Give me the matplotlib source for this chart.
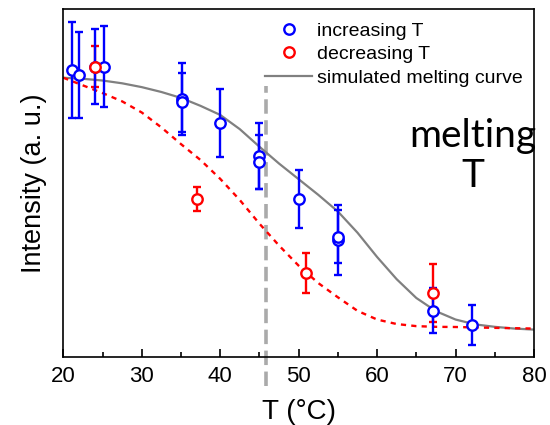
import matplotlib
matplotlib.use("Agg")
import matplotlib.pyplot as plt
from matplotlib.lines import Line2D

plt.rcParams['font.family'] = ['Liberation Sans', 'DejaVu Sans']

# increasing T data
inc_T = [21.1, 22.0, 24.0, 25.2, 35.1, 35.1, 40.0, 45.0, 45.0, 50.0, 55.0, 55.0, 67.1, 72.1]
inc_I = [0.825, 0.811, 0.835, 0.835, 0.741, 0.732, 0.672, 0.578, 0.560, 0.454, 0.336, 0.346, 0.1325, 0.091]
inc_err = [0.138, 0.123, 0.108, 0.117, 0.104, 0.085, 0.098, 0.095, 0.078, 0.083, 0.102, 0.076, 0.065, 0.057]

# decreasing T data
dec_T = [24.0, 37.1, 51.0, 67.1]
dec_I = [0.835, 0.454, 0.240, 0.1825]
dec_err = [0.059, 0.035, 0.058, 0.0835]

# simulated melting curve
sim_T = [20, 22.5, 25, 27.5, 30, 32.5, 35, 37.5, 40, 42.5, 45, 47.5, 50, 52.5, 55,
         57.5, 60, 62.5, 65, 67.5, 70, 72.5, 75, 77.5, 80]
sim_I = [0.803, 0.800, 0.795, 0.787, 0.776, 0.762, 0.745, 0.722, 0.696, 0.655, 0.6045,
         0.556, 0.511, 0.466, 0.418, 0.357, 0.287, 0.223, 0.169, 0.131, 0.107, 0.093,
         0.086, 0.081, 0.078]

# decreasing-T guide curve
dec_curve_T = [20, 22.5, 25, 27.5, 30, 32.5, 35, 37.5, 40, 42.5, 45, 47.5, 50, 52.5,
               55, 57.5, 60, 62.5, 65, 67.5, 70, 75, 80]
dec_curve_I = [0.803, 0.781, 0.759, 0.735, 0.703, 0.660, 0.612, 0.566, 0.512, 0.451,
               0.383, 0.320, 0.262, 0.212, 0.171, 0.132, 0.107, 0.094, 0.088, 0.086,
               0.0855, 0.083, 0.081]

melting_T = 45.8
x_ticks = [20, 30, 40, 50, 60, 70, 80]

fig = plt.figure(figsize=(5.5, 4.25), dpi=100)
ax = fig.add_axes([0.1151, 0.1607, 0.8558, 0.8174])

ax.plot(sim_T, sim_I, color='#808080', lw=1.6, zorder=2)
ax.plot(dec_curve_T, dec_curve_I, color='#ff0000', lw=1.7, dashes=(2.2, 2.2), zorder=2)
ax.plot([melting_T, melting_T], [-0.085, 0.779], color='#aaaaaa', lw=2.6,
        dashes=(4, 1.8), clip_on=False, zorder=1)

ax.errorbar(dec_T, dec_I, yerr=dec_err, fmt='none', ecolor='#ff0000', elinewidth=1.7,
            capsize=3, capthick=1.7, zorder=3)
ax.errorbar(inc_T, inc_I, yerr=inc_err, fmt='none', ecolor='#0000ff', elinewidth=1.7,
            capsize=3, capthick=1.7, zorder=4)
ax.plot(inc_T, inc_I, 'o', ms=7.5, mfc='white', mec='#0000ff', mew=1.7, ls='none', zorder=5)
ax.plot(dec_T, dec_I, 'o', ms=7.5, mfc='white', mec='#ff0000', mew=1.7, ls='none', zorder=6)

ax.set_xlim(20, 80)
ax.set_ylim(0, 1)
ax.set_xticks(x_ticks)
ax.set_xticks(range(25, 80, 10), minor=True)
ax.tick_params(axis='x', which='major', direction='in', length=6, width=1.2, labelsize=16, pad=7)
ax.tick_params(axis='x', which='minor', direction='in', length=3.5, width=1.2)
ax.set_yticks([])
for s in ax.spines.values():
    s.set_linewidth(1.2)

ax.set_xlabel('T (°C)', fontsize=20, labelpad=8)
ax.set_ylabel('Intensity (a. u.)', fontsize=19.5, labelpad=12)

ax.text(0.870, 0.578, 'melting\nT', transform=ax.transAxes, ha='center', va='center',
        fontsize=28, family=['Lato', 'DejaVu Sans'], fontweight='normal', linespacing=1.15)

handles = [
    Line2D([], [], marker='o', ls='none', ms=7.5, mfc='white', mec='#0000ff', mew=1.7),
    Line2D([], [], marker='o', ls='none', ms=7.5, mfc='white', mec='#ff0000', mew=1.7),
    Line2D([], [], color='#808080', lw=1.6),
]
ax.legend(handles, ['increasing T', 'decreasing T', 'simulated melting curve'],
          loc='upper left', bbox_to_anchor=(0.4285, 0.963), frameon=False,
          fontsize=14, handlelength=2.42, handletextpad=0.26, labelspacing=0.3,
          borderpad=0, borderaxespad=0)

fig.savefig('out.png', dpi=100)
